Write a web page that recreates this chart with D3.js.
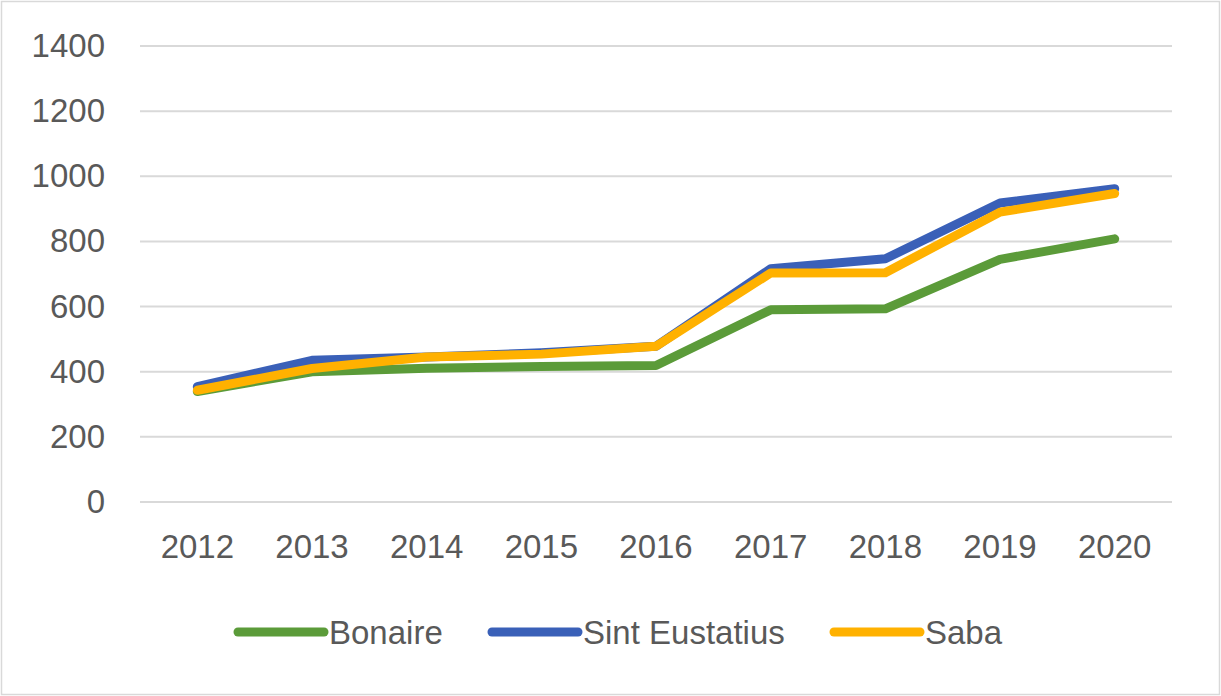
<!DOCTYPE html>
<html>
<head>
<meta charset="utf-8">
<script src="https://cdn.jsdelivr.net/npm/d3@7"></script>
<style>
  body { margin: 0; background: #fff; }
  svg text { font-family: "Liberation Sans", Arial, sans-serif; fill: #595959; }
</style>
</head>
<body>
<svg id="chart" width="1221" height="696"></svg>
<script>
// Data
const years = ["2012", "2013", "2014", "2015", "2016", "2017", "2018", "2019", "2020"];
const bonaire = [339, 400, 411, 416, 419, 590, 593, 745, 808];
const sintEustatius = [354, 435, 445, 458, 478, 716, 747, 918, 962];
const saba = [343, 410, 445, 454, 478, 703, 704, 890, 947];
const yTicks = [0, 200, 400, 600, 800, 1000, 1200, 1400];

const series = [
  { name: "Bonaire", values: bonaire, color: "#5b9b39" },
  { name: "Sint Eustatius", values: sintEustatius, color: "#3a60b8" },
  { name: "Saba", values: saba, color: "#ffb100" }
];

const svg = d3.select("#chart");

// Outer border
svg.append("rect")
  .attr("x", 1.5).attr("y", 1.5)
  .attr("width", 1218).attr("height", 693)
  .attr("fill", "#fff")
  .attr("stroke", "#d9d9d9")
  .attr("stroke-width", 1.5);

const plot = { left: 140, right: 1172, top: 46, bottom: 502 };

const x = d3.scaleBand()
  .domain(years)
  .range([plot.left, plot.right])
  .padding(0);

const y = d3.scaleLinear()
  .domain([0, 1400])
  .range([plot.bottom, plot.top]);

// Gridlines
svg.append("g")
  .selectAll("line")
  .data(yTicks)
  .join("line")
  .attr("x1", plot.left)
  .attr("x2", plot.right)
  .attr("y1", d => y(d))
  .attr("y2", d => y(d))
  .attr("stroke", "#d9d9d9")
  .attr("stroke-width", 2);

// Y axis labels
const yAxis = svg.append("g")
  .attr("transform", `translate(${plot.left - 35},0)`)
  .call(d3.axisLeft(y).tickValues(yTicks).tickFormat(d3.format("d")).tickSize(0).tickPadding(0));
yAxis.select(".domain").remove();
yAxis.selectAll("text")
  .attr("font-size", 33)
  .attr("fill", "#595959")
  .attr("font-family", "Liberation Sans, Arial, sans-serif");

// X axis labels
const xAxis = svg.append("g")
  .attr("transform", `translate(0,${plot.bottom + 33})`)
  .call(d3.axisBottom(x).tickSize(0).tickPadding(0));
xAxis.select(".domain").remove();
xAxis.selectAll("text")
  .attr("font-size", 33)
  .attr("fill", "#595959")
  .attr("font-family", "Liberation Sans, Arial, sans-serif");

// Lines
const line = d3.line()
  .x((d, i) => x(years[i]) + x.bandwidth() / 2)
  .y(d => y(d));

svg.append("g")
  .selectAll("path")
  .data(series)
  .join("path")
  .attr("d", d => line(d.values))
  .attr("fill", "none")
  .attr("stroke", d => d.color)
  .attr("stroke-width", 9)
  .attr("stroke-linecap", "round")
  .attr("stroke-linejoin", "round");

// Legend
const legendX = [238, 492, 834];
const legend = svg.append("g")
  .selectAll("g")
  .data(series)
  .join("g")
  .attr("transform", (d, i) => `translate(${legendX[i]},632)`);

legend.append("line")
  .attr("x1", 0).attr("x2", 86)
  .attr("y1", 0).attr("y2", 0)
  .attr("stroke", d => d.color)
  .attr("stroke-width", 9)
  .attr("stroke-linecap", "round");

legend.append("text")
  .attr("x", 91)
  .attr("y", 12)
  .attr("font-size", 33)
  .text(d => d.name);
</script>
</body>
</html>
